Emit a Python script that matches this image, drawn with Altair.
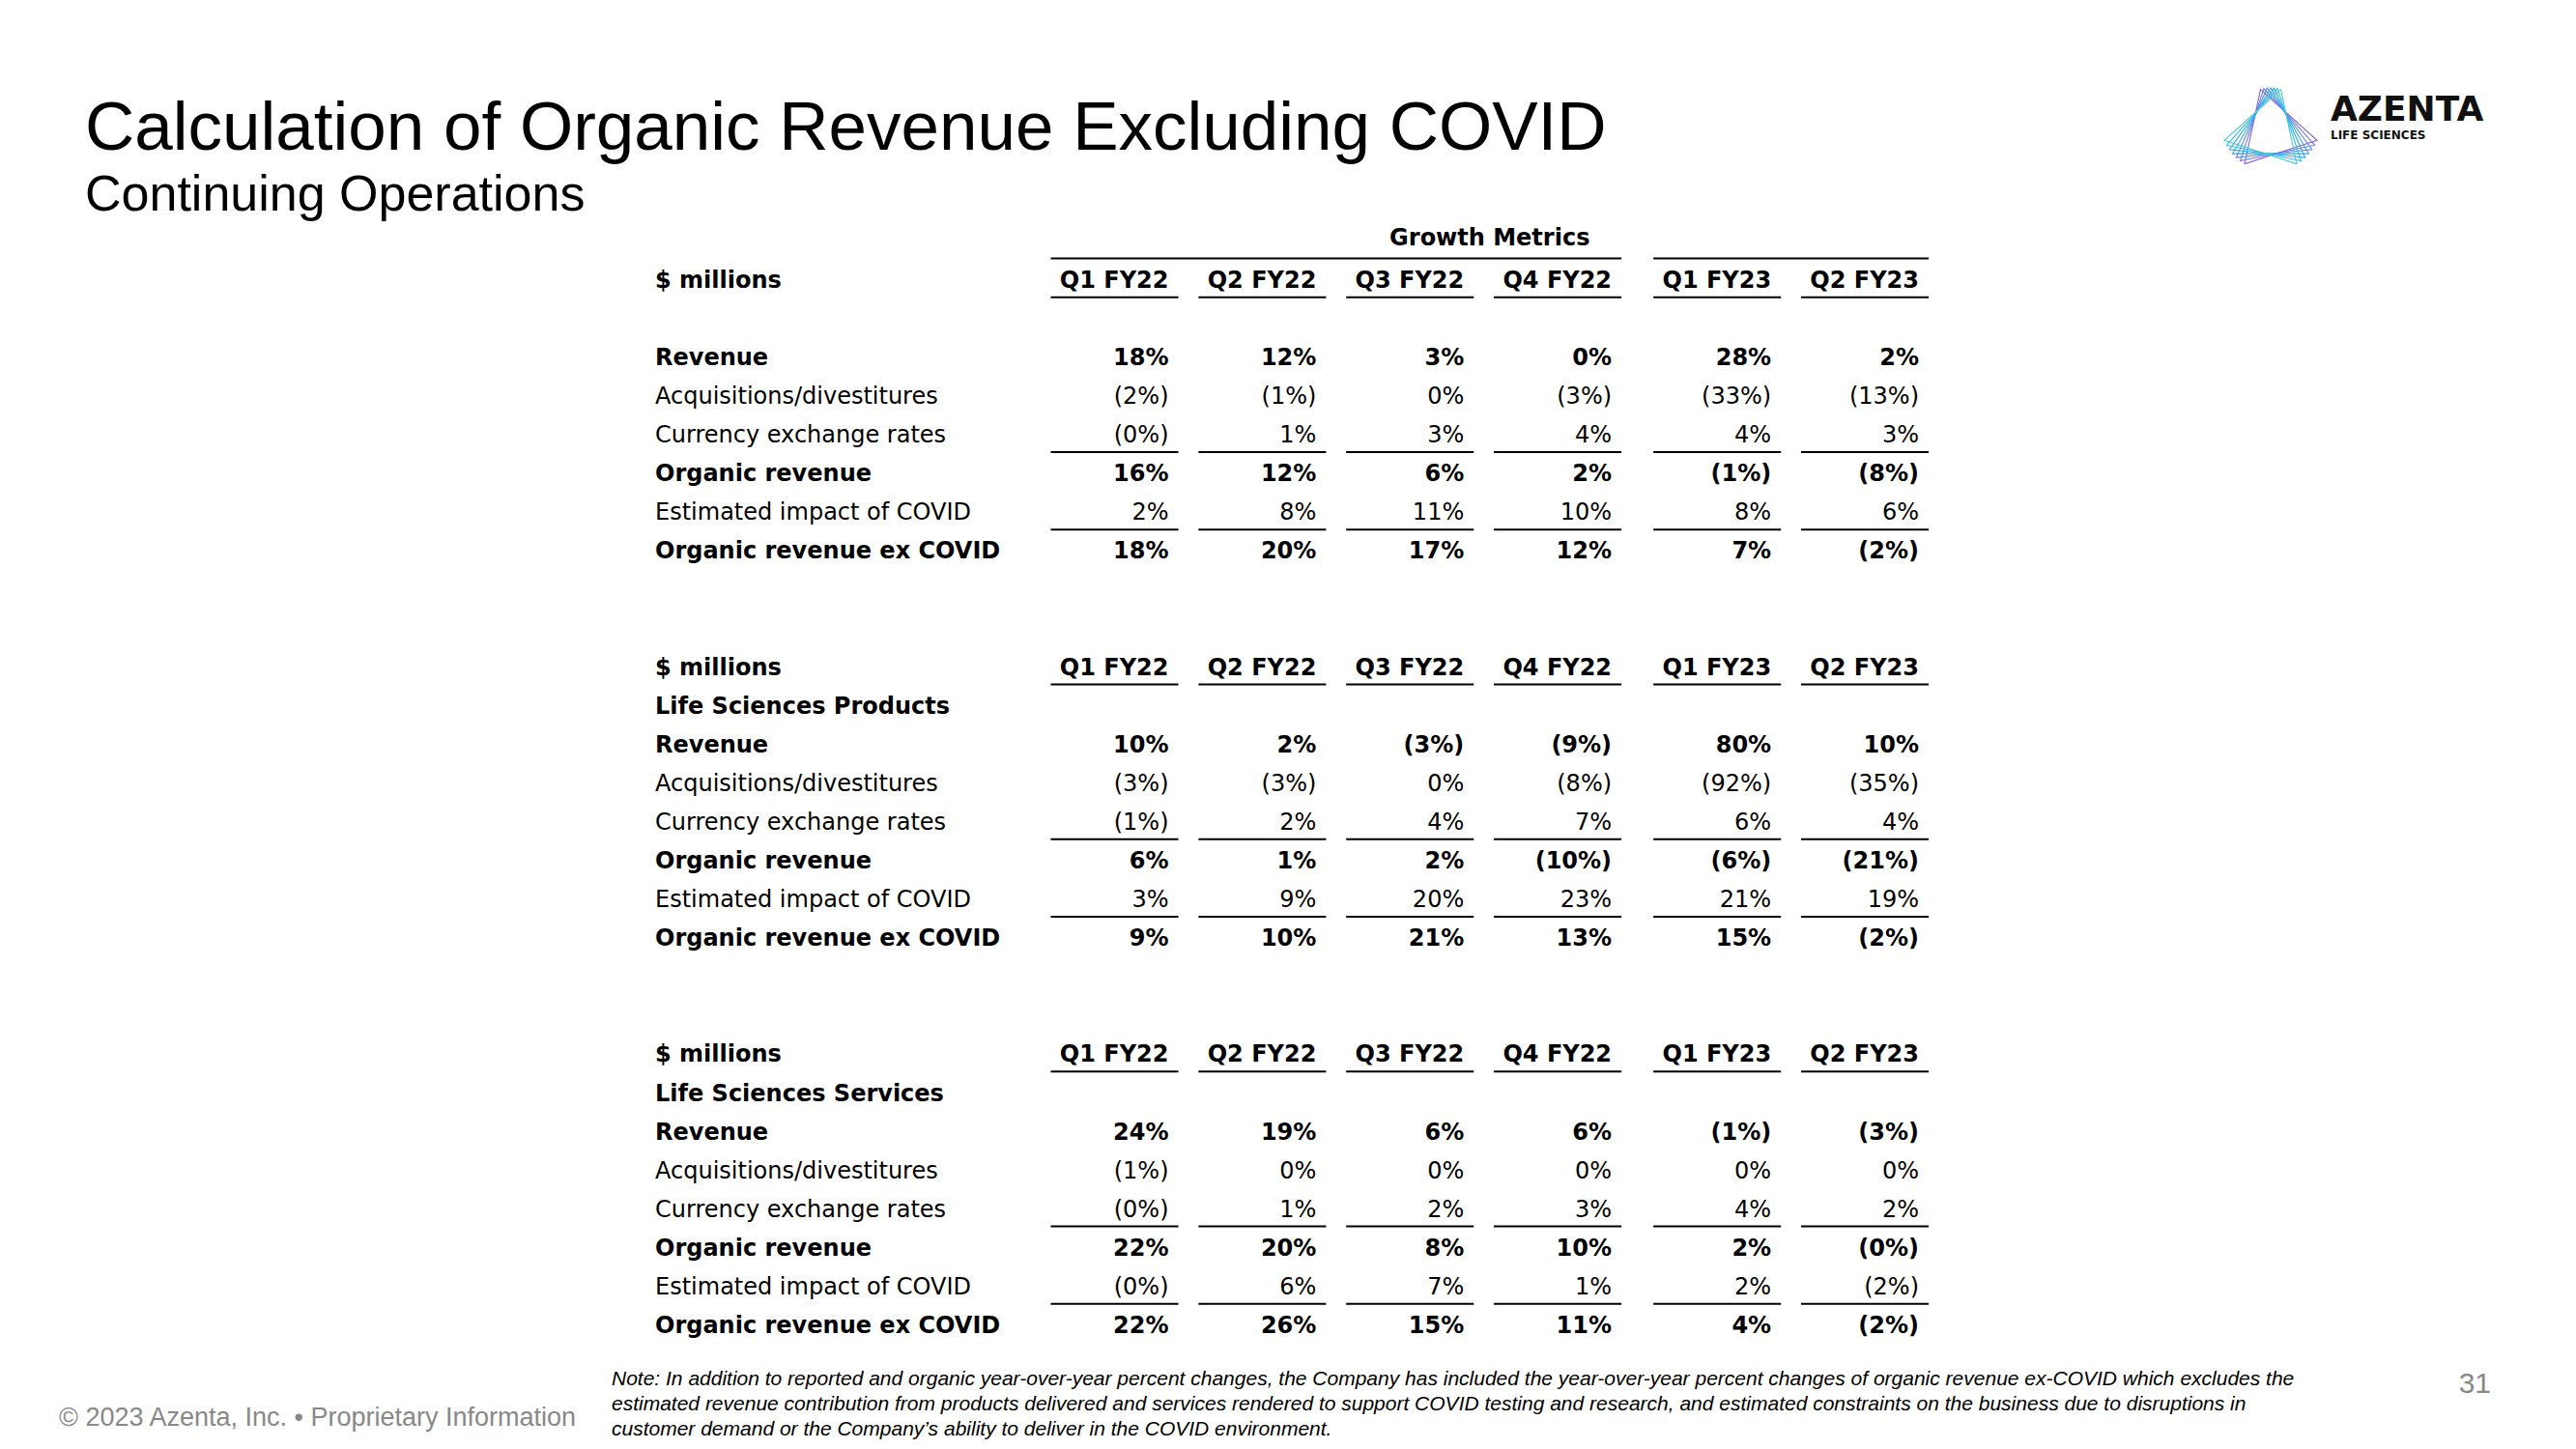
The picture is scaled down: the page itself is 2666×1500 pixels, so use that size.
import altair as alt
import pandas as pd

# ---------------- content ----------------
TITLE = "Calculation of Organic Revenue Excluding COVID"
SUBTITLE = "Continuing Operations"
UNIT_LABEL = "$ millions"
GROUP_LABEL = "Growth Metrics"
QUARTERS = ["Q1 FY22", "Q2 FY22", "Q3 FY22", "Q4 FY22", "Q1 FY23", "Q2 FY23"]
ROW_LABELS = ["Revenue", "Acquisitions/divestitures", "Currency exchange rates",
              "Organic revenue", "Estimated impact of COVID", "Organic revenue ex COVID"]
BOLD_ROWS = ["Revenue", "Organic revenue", "Organic revenue ex COVID"]
SEGMENTS = ["", "Life Sciences Products", "Life Sciences Services"]

TOTAL = [
    ["18%", "12%", "3%", "0%", "28%", "2%"],
    ["(2%)", "(1%)", "0%", "(3%)", "(33%)", "(13%)"],
    ["(0%)", "1%", "3%", "4%", "4%", "3%"],
    ["16%", "12%", "6%", "2%", "(1%)", "(8%)"],
    ["2%", "8%", "11%", "10%", "8%", "6%"],
    ["18%", "20%", "17%", "12%", "7%", "(2%)"],
]
LSP = [
    ["10%", "2%", "(3%)", "(9%)", "80%", "10%"],
    ["(3%)", "(3%)", "0%", "(8%)", "(92%)", "(35%)"],
    ["(1%)", "2%", "4%", "7%", "6%", "4%"],
    ["6%", "1%", "2%", "(10%)", "(6%)", "(21%)"],
    ["3%", "9%", "20%", "23%", "21%", "19%"],
    ["9%", "10%", "21%", "13%", "15%", "(2%)"],
]
LSS = [
    ["24%", "19%", "6%", "6%", "(1%)", "(3%)"],
    ["(1%)", "0%", "0%", "0%", "0%", "0%"],
    ["(0%)", "1%", "2%", "3%", "4%", "2%"],
    ["22%", "20%", "8%", "10%", "2%", "(0%)"],
    ["(0%)", "6%", "7%", "1%", "2%", "(2%)"],
    ["22%", "26%", "15%", "11%", "4%", "(2%)"],
]
TABLES = [TOTAL, LSP, LSS]

FOOTER = "© 2023 Azenta, Inc. • Proprietary Information"
NOTE_LINES = [
    "Note: In addition to reported and organic year-over-year percent changes, the Company has included the year-over-year percent changes of organic revenue ex-COVID which excludes the",
    "estimated revenue contribution from products delivered and services rendered to support COVID testing and research, and estimated constraints on the business due to disruptions in",
    "customer demand or the Company\u2019s ability to deliver in the COVID environment.",
]
PAGE = "31"
LOGO_NAME = "AZENTA"
LOGO_SUB = "LIFE SCIENCES"
LOGO_TWIST = [-18, -12, -6, 0, 6, 12, 18]

# ---------------- layout ----------------
W, H = 2650, 1484
SECTION_START = [0, 10, 20]
FY23_GAP = 0.08
HALF = 0.432
col_pos = [i + (FY23_GAP if q.endswith("FY23") else 0) for i, q in enumerate(QUARTERS)]
X_SCALE = alt.Scale(domain=[0, col_pos[-1]], range=[1145.5, 1922], zero=False, nice=False)
Y_SCALE = alt.Scale(domain=[2, 27], range=[363, 1365], zero=False, nice=False)

TFONT = "DejaVu Sans"
HFONT = "Liberation Sans"
TSIZE = 24

cells, labels, lines = [], [], []
for s0, seg, table in zip(SECTION_START, SEGMENTS, TABLES):
    labels.append(dict(slot=s0, text=UNIT_LABEL, bold=True))
    for qi, q in enumerate(QUARTERS):
        cells.append(dict(slot=s0, col=col_pos[qi], text=q, bold=True))
    if seg:
        labels.append(dict(slot=s0 + 1, text=seg, bold=True))
    for ri, (lab, vals) in enumerate(zip(ROW_LABELS, table)):
        slot = s0 + 2 + ri
        b = lab in BOLD_ROWS
        labels.append(dict(slot=slot, text=lab, bold=b))
        for qi, v in enumerate(vals):
            cells.append(dict(slot=slot, col=col_pos[qi], text=v, bold=b))
    for off in [0.42, 4.42, 6.42]:
        for c in col_pos:
            lines.append(dict(x1=c - HALF, x2=c + HALF, slot=s0 + off))

fy22 = [c for c, q in zip(col_pos, QUARTERS) if q.endswith("FY22")]
fy23 = [c for c, q in zip(col_pos, QUARTERS) if q.endswith("FY23")]
lines.append(dict(x1=fy22[0] - HALF, x2=fy22[-1] + HALF, slot=-0.58))
lines.append(dict(x1=fy23[0] - HALF, x2=fy23[-1] + HALF, slot=-0.58))
group_df = pd.DataFrame([dict(slot=-1.1, col=(col_pos[0] + col_pos[-1]) / 2, text=GROUP_LABEL)])

cells_df = pd.DataFrame(cells)
labels_df = pd.DataFrame(labels)
lines_df = pd.DataFrame(lines)

x_enc = alt.X("col:Q", scale=X_SCALE, axis=None)
y_enc = alt.Y("slot:Q", scale=Y_SCALE, axis=None)


def one(text):
    return pd.DataFrame({"t": [text]})


layers = []

# title / subtitle
layers.append(alt.Chart(one(TITLE)).mark_text(
    align="left", baseline="alphabetic", font=HFONT, fontSize=71, color="#000000"
).encode(x=alt.value(80), y=alt.value(147), text="t:N"))
layers.append(alt.Chart(one(SUBTITLE)).mark_text(
    align="left", baseline="alphabetic", font=HFONT, fontSize=52, color="#000000"
).encode(x=alt.value(80), y=alt.value(210), text="t:N"))

# table rules
layers.append(alt.Chart(lines_df).mark_rule(color="#000000", strokeWidth=2).encode(
    x=alt.X("x1:Q", scale=X_SCALE, axis=None), x2="x2:Q", y=y_enc))

# group header
layers.append(alt.Chart(group_df).mark_text(
    align="center", baseline="middle", font=TFONT, fontSize=TSIZE, fontWeight="bold", color="#000000"
).encode(x=x_enc, y=y_enc, text="text:N"))

# cells
for b in [True, False]:
    layers.append(alt.Chart(cells_df[cells_df.bold == b]).mark_text(
        align="right", baseline="middle", dx=56, font=TFONT, fontSize=TSIZE,
        fontWeight="bold" if b else "normal", color="#000000"
    ).encode(x=x_enc, y=y_enc, text="text:N"))
    layers.append(alt.Chart(labels_df[labels_df.bold == b]).mark_text(
        align="left", baseline="middle", font=TFONT, fontSize=TSIZE,
        fontWeight="bold" if b else "normal", color="#000000"
    ).encode(x=alt.value(670), y=y_enc, text="text:N"))

# logo
logo_df = pd.DataFrame({"ang": LOGO_TWIST, "k": list(range(len(LOGO_TWIST)))})
layers.append(alt.Chart(logo_df).mark_point(
    shape="triangle-up", filled=False, size=6200, strokeWidth=1.1, opacity=1
).encode(
    x=alt.value(2342), y=alt.value(117),
    angle=alt.Angle("ang:Q", scale=None),
    color=alt.Color("k:Q", scale=alt.Scale(range=["#8a62d0", "#4fc9dc"]), legend=None),
))
layers.append(alt.Chart(one(LOGO_NAME)).mark_text(
    align="left", baseline="alphabetic", font="DejaVu Sans", fontSize=36, fontWeight="bold", color="#111111"
).encode(x=alt.value(2404), y=alt.value(117), text="t:N"))
layers.append(alt.Chart(one(LOGO_SUB)).mark_text(
    align="left", baseline="alphabetic", font="DejaVu Sans", fontSize=12, fontWeight="bold", color="#111111"
).encode(x=alt.value(2404), y=alt.value(136), text="t:N"))

# footer
layers.append(alt.Chart(one(FOOTER)).mark_text(
    align="left", baseline="alphabetic", font=HFONT, fontSize=27, color="#888888"
).encode(x=alt.value(53), y=alt.value(1468), text="t:N"))
layers.append(alt.Chart(one("note")).mark_text(
    align="left", baseline="alphabetic", font=HFONT, fontSize=21, fontStyle="italic",
    lineHeight=26, color="#000000"
).encode(x=alt.value(625), y=alt.value(1426), text=alt.value(NOTE_LINES)))
layers.append(alt.Chart(one(PAGE)).mark_text(
    align="right", baseline="alphabetic", font=HFONT, fontSize=30, color="#888888"
).encode(x=alt.value(2570), y=alt.value(1434), text="t:N"))

chart = alt.layer(*layers).properties(width=W, height=H, padding=0).configure_view(stroke=None)
chart.save("out.html", embed_options={"renderer": "svg", "actions": False})
